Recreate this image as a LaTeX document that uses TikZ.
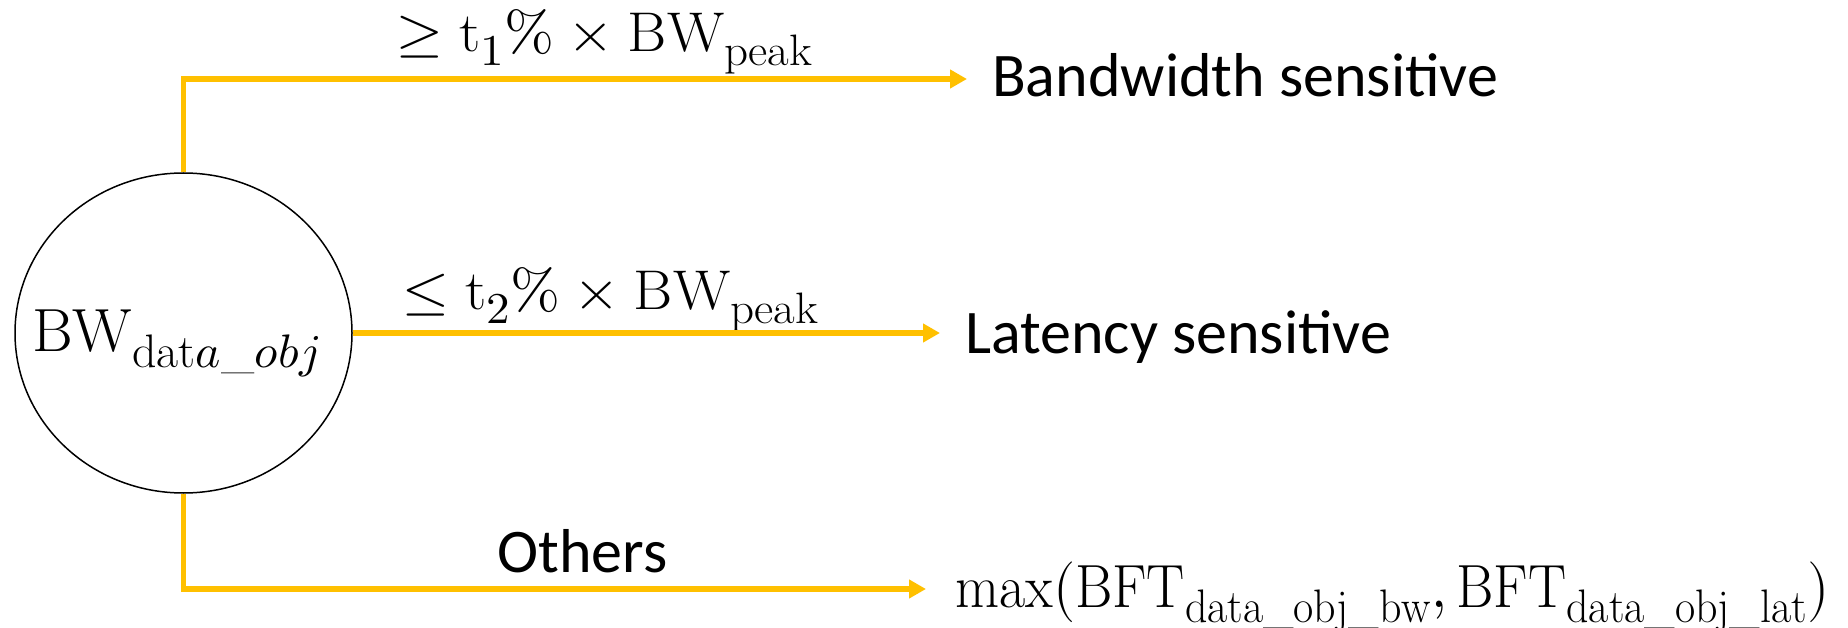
\documentclass[tikz,border=0pt]{standalone}
\usepackage{graphicx}
\usepackage{amsmath}
\usepackage{fontspec}
\usepackage{unicode-math}
\DeclareMathSizes{56}{56}{44}{35}
\DeclareMathSizes{61}{61}{47}{38}
\newfontfamily\calib{Carlito}
\usetikzlibrary{arrows.meta,shapes.geometric}
\definecolor{gold}{HTML}{FFC000}
\begin{document}
\begin{tikzpicture}[x=1pt,y=-1pt,
  conn/.style={draw=gold,line width=5.5pt,-{Triangle[length=17pt,width=18pt]}},
  sanslbl/.style={inner sep=0pt,anchor=base west,font=\calib\fontsize{62}{70}\selectfont},
  mathlbl/.style={inner sep=0pt,anchor=base west,font=\fontsize{56}{64}\selectfont},
  bigmath/.style={inner sep=0pt,anchor=base west,font=\fontsize{61}{70}\selectfont}]
\useasboundingbox (0,0) rectangle (1848,628);
\node[ellipse,draw,line width=1.5pt,minimum width=337pt,minimum height=320pt,inner sep=0pt] (c) at (183.5,333) {};
\node[bigmath] (ct) at (32,352) {\scalebox{1.02}[1]{$\mathrm{BW}_{\mathrm{dat}a\_obj}$}};
\node[sanslbl] (bw) at (992,97) {Bandwidth sensitive};
\node[sanslbl] (lat) at (965,353) {Latency sensitive};
\node[bigmath] (mx) at (955,607) {\scalebox{0.935}[1]{$\max(\mathrm{BFT}_{\mathrm{data\_obj\_bw}},\mathrm{BFT}_{\mathrm{data\_obj\_lat}})$}};
\node[mathlbl] (l1) at (396,52) {\scalebox{1.07}[1]{$\geq\mathrm{t}_1\%\times\mathrm{BW}_{\mathrm{peak}}$}};
\node[mathlbl] (l2) at (402,310) {\scalebox{1.07}[1]{$\leq\mathrm{t}_2\%\times\mathrm{BW}_{\mathrm{peak}}$}};
\node[sanslbl,font=\calib\fontsize{62}{70}\selectfont] (l3) at (497,572) {Others};
\coordinate (e1) at (967,79);
\coordinate (e2) at (940,333);
\coordinate (e3) at (926,589);
\draw[conn] (c.north) |- (e1);
\draw[conn] (c.east) -- (e2);
\draw[conn] (c.south) |- (e3);
\end{tikzpicture}
\end{document}
